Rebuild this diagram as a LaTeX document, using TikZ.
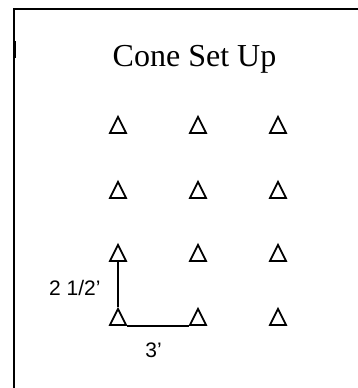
\documentclass[tikz,border=0pt]{standalone}
\usepackage{fontspec}
\setmainfont{Liberation Serif}
\newfontfamily\arial{Liberation Sans}
\usetikzlibrary{shapes}

\begin{document}
\begin{tikzpicture}[x=1pt,y=-1pt]
\tikzset{cone/.style = {shape=isosceles triangle,isosceles triangle apex angle=53.13,shape border rotate=90,draw,line width=1.8pt,inner sep=0pt,minimum size=16pt}}
\tikzset{dim/.style = {line width=1.6pt}}
\useasboundingbox (0,0) rectangle (357,388);
\draw[line width=1.6pt] (14,400) -- (14,9) -- (370,9);
\draw[line width=3pt] (14,41) -- (14,58);
\node[anchor=base] (title) at (194.5,66) {\fontsize{32}{36}\selectfont Cone Set Up};

\node[cone] (a1) at (118,128) {};
\node[cone] (a2) at (198,128) {};
\node[cone] (a3) at (278,128) {};
\node[cone] (b1) at (118,193) {};
\node[cone] (b2) at (198,193) {};
\node[cone] (b3) at (278,193) {};
\node[cone] (c1) at (118,256) {};
\node[cone] (c2) at (198,256) {};
\node[cone] (c3) at (278,256) {};
\node[cone] (d1) at (118,320) {};
\node[cone] (d2) at (198,320) {};
\node[cone] (d3) at (278,320) {};

\draw[dim] (c1.apex |- c1.right corner) to (d1.apex);
\draw[dim] (d1.right corner) to (d2.left corner);
\node[anchor=east] (h) at (104,288) {\arial\fontsize{21}{24}\selectfont 2 1/2’};
\node (w) at (153.5,350) {\arial\fontsize{21}{24}\selectfont 3’};
\end{tikzpicture}
\end{document}
